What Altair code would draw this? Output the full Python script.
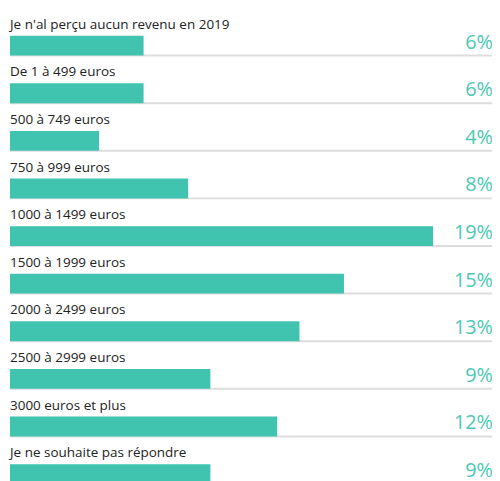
import altair as alt
import pandas as pd

categories = [
    "Je n'al perçu aucun revenu en 2019",
    "De 1 à 499 euros",
    "500 à 749 euros",
    "750 à 999 euros",
    "1000 à 1499 euros",
    "1500 à 1999 euros",
    "2000 à 2499 euros",
    "2500 à 2999 euros",
    "3000 euros et plus",
    "Je ne souhaite pas répondre",
]
values = [6, 6, 4, 8, 19, 15, 13, 9, 12, 9]
labels = ["6%", "6%", "4%", "8%", "19%", "15%", "13%", "9%", "12%", "9%"]

df = pd.DataFrame({"cat": categories, "val": values, "lab": labels})

W = 486
XMAX = W / 22.45
TEAL = "#40c4b0"

x_scale = alt.Scale(domain=[0, XMAX], nice=False, zero=True)
y_scale = alt.Scale(domain=categories, range=[0, 480], paddingInner=0, paddingOuter=0)

yenc = alt.Y("cat:N", scale=y_scale, axis=None)

base = alt.Chart(df)

rule = base.mark_rule(color="#dddddd", strokeWidth=2, yOffset=22).encode(
    y=yenc,
    x=alt.value(0),
    x2=alt.value(W),
)

bars = base.mark_bar(color=TEAL, size=20, yOffset=12).encode(
    y=yenc,
    x=alt.X("val:Q", scale=x_scale, axis=None),
)

cat_text = base.mark_text(
    align="left", baseline="alphabetic", dy=-5, fontSize=13.6,
    font="Open Sans", color="#222222",
).encode(
    y=yenc,
    x=alt.value(0),
    text="cat:N",
)

pct_text = base.mark_text(
    align="right", baseline="alphabetic", dy=15, dx=1, fontSize=20,
    font="Open Sans", color="#4cc8b3",
).encode(
    y=yenc,
    x=alt.value(W),
    text="lab:N",
)

chart = (
    alt.layer(rule, bars, cat_text, pct_text)
    .properties(
        width=W,
        height=473,
        padding={"left": 2, "top": 0, "right": 0, "bottom": 0},
        autosize=alt.AutoSizeParams(type="none"),
    )
    .configure_view(stroke=None)
)

chart.save("out.html", embed_options={"renderer": "svg", "actions": False})
